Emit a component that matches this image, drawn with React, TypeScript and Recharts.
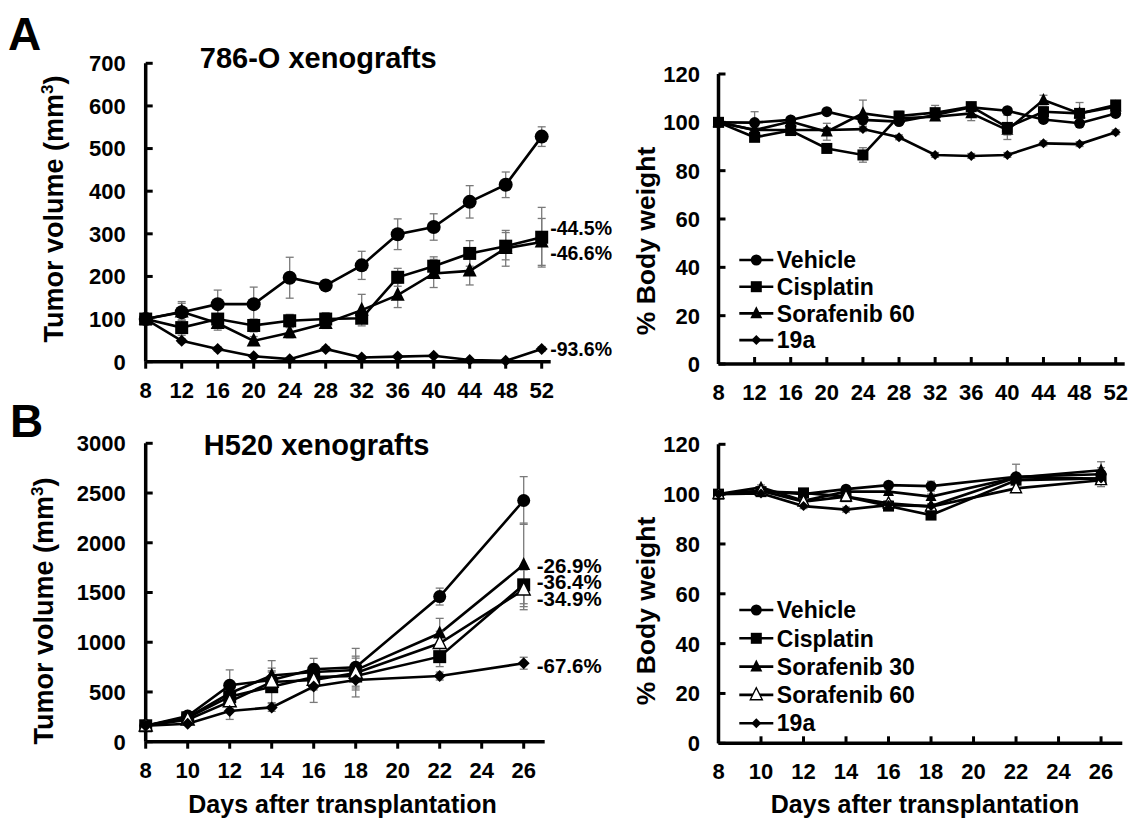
import { LineChart, Line, XAxis, YAxis, ErrorBar } from 'recharts';

const FONT = '"Liberation Sans", Arial, Helvetica, sans-serif';

type Shape = 'circle' | 'square' | 'triangle' | 'openTriangle' | 'diamond';
type SeriesDef = { key: string; name: string; shape: Shape; label?: string; labelDy?: number };
type Sizes = Record<Shape, number>;

// ---- Panel A, 786-O xenografts: tumor volume (mm3)
const daysA = [8, 12, 16, 20, 24, 28, 32, 36, 40, 44, 48, 52];
const volA_vehicle = [100, 116, 135, 135, 197, 179, 226, 299, 316, 375, 415, 528];
const volA_vehicleErr = [0, 25, 33, 40, 48, 8, 33, 36, 31, 38, 30, 23];
const volA_cisplatin = [100, 80, 100, 85, 96, 100, 102, 198, 224, 254, 271, 292];
const volA_cisplatinErr = [0, 18, 26, 15, 15, 15, 12, 21, 22, 30, 32, 70];
const volA_sora60 = [100, 117, 90, 49, 68, 90, 121, 156, 207, 213, 266, 281];
const volA_sora60Err = [0, 20, 12, 10, 12, 12, 37, 29, 33, 33, 42, 55];
const volA_19a = [100, 49, 30, 13, 6, 30, 10, 12, 14, 4, 2, 30];
const volA_19aErr = [0, 5, 5, 3, 3, 5, 3, 3, 3, 2, 2, 5];

// ---- Panel A: % body weight
const bwA_vehicle = [100, 99.9, 101, 104.4, 101, 100.3, 103, 106.2, 104.8, 101.2, 99.6, 103.7];
const bwA_vehicleErr = [0, 4.5, 1, 1, 2, 1, 1, 1, 1, 1, 1, 1];
const bwA_cisplatin = [100, 93.8, 96.6, 89.2, 86.5, 102.6, 104, 106.5, 97.9, 104.4, 103.7, 107.2];
const bwA_cisplatinErr = [0, 1, 1, 1, 3, 2, 3, 1.5, 5, 2, 4.5, 1];
const bwA_sora60 = [100, 96.8, 100.3, 96.1, 103.7, 101.7, 102.3, 103.7, 96.8, 109.2, 103.7, 106.5];
const bwA_sora60Err = [0, 1, 1, 3.5, 5.5, 1, 1, 3, 2, 2, 1, 1];
const bwA_19a = [100, 96.8, 96.8, 96.8, 97.2, 93.8, 86.5, 86.1, 86.5, 91.3, 91, 95.9];
const bwA_19aErr = [0, 1, 1, 1, 1, 1, 1, 1, 1, 1, 1, 1];

// ---- Panel B, H520 xenografts: tumor volume (mm3)
const daysB = [8, 10, 12, 14, 16, 18, 22, 26];
const volB_vehicle = [160, 258, 567, 620, 728, 748, 1459, 2425];
const volB_vehicleErr = [0, 30, 155, 120, 110, 190, 85, 240];
const volB_cisplatin = [160, 240, 453, 553, 650, 660, 855, 1577];
const volB_cisplatinErr = [0, 25, 80, 160, 80, 120, 100, 190];
const volB_sora30 = [160, 245, 487, 665, 700, 720, 1090, 1778];
const volB_sora30Err = [0, 25, 80, 150, 80, 120, 150, 420];
const volB_sora60 = [160, 220, 403, 600, 620, 690, 990, 1527];
const volB_sora60Err = [0, 20, 70, 100, 100, 170, 120, 200];
const volB_19a = [160, 180, 309, 345, 555, 620, 660, 789];
const volB_19aErr = [0, 15, 85, 40, 160, 170, 40, 60];

// ---- Panel B: % body weight
const bwB_vehicle = [100, 101.3, 100, 102, 103.6, 103.2, 107, 108];
const bwB_vehicleErr = [0, 1, 1, 1, 1, 2, 5, 5];
const bwB_cisplatin = [100, 101, 100.5, 99, 95.2, 91.6, 105.6, 106.3];
const bwB_cisplatinErr = [0, 1, 1, 1, 1, 1, 1, 1];
const bwB_sora30 = [100, 102.7, 97.3, 101, 101, 99, 106.7, 109.6];
const bwB_sora30Err = [0, 1, 1, 1, 1, 1, 1, 1];
const bwB_sora60 = [100, 101.3, 97, 99, 96.3, 95, 102.3, 105.6];
const bwB_sora60Err = [0, 1, 1, 1, 1, 1, 1.5, 1];
const bwB_19a = [100, 100.3, 95.2, 93.8, 95.6, 95.2, 106.7, 106.3];
const bwB_19aErr = [0, 1, 1, 1, 1, 1, 1, 1];

// ticks
const ticksXA = [8, 12, 16, 20, 24, 28, 32, 36, 40, 44, 48, 52];
const ticksXB = [8, 10, 12, 14, 16, 18, 20, 22, 24, 26];
const ticksVolA = [0, 100, 200, 300, 400, 500, 600, 700];
const ticksVolB = [0, 500, 1000, 1500, 2000, 2500, 3000];
const ticksBW = [0, 20, 40, 60, 80, 100, 120];

const seriesVolA: SeriesDef[] = [
  { key: 'vehicle', name: 'Vehicle', shape: 'circle' },
  { key: 'cisplatin', name: 'Cisplatin', shape: 'square', label: '-44.5%', labelDy: -9 },
  { key: 'sora60', name: 'Sorafenib 60', shape: 'triangle', label: '-46.6%', labelDy: 11 },
  { key: 'c19a', name: '19a', shape: 'diamond', label: '-93.6%', labelDy: 0 },
];
const seriesBwA: SeriesDef[] = [
  { key: 'vehicle', name: 'Vehicle', shape: 'circle' },
  { key: 'cisplatin', name: 'Cisplatin', shape: 'square' },
  { key: 'sora60', name: 'Sorafenib 60', shape: 'triangle' },
  { key: 'c19a', name: '19a', shape: 'diamond' },
];
const seriesVolB: SeriesDef[] = [
  { key: 'vehicle', name: 'Vehicle', shape: 'circle' },
  { key: 'cisplatin', name: 'Cisplatin', shape: 'square', label: '-36.4%', labelDy: -3 },
  { key: 'sora30', name: 'Sorafenib 30', shape: 'triangle', label: '-26.9%', labelDy: 1 },
  { key: 'sora60', name: 'Sorafenib 60', shape: 'openTriangle', label: '-34.9%', labelDy: 9 },
  { key: 'c19a', name: '19a', shape: 'diamond', label: '-67.6%', labelDy: 2 },
];
const seriesBwB: SeriesDef[] = [
  { key: 'vehicle', name: 'Vehicle', shape: 'circle' },
  { key: 'cisplatin', name: 'Cisplatin', shape: 'square' },
  { key: 'sora30', name: 'Sorafenib 30', shape: 'triangle' },
  { key: 'sora60', name: 'Sorafenib 60', shape: 'openTriangle' },
  { key: 'c19a', name: '19a', shape: 'diamond' },
];

function buildRows(days: number[], cols: Record<string, number[]>) {
  return days.map((day, i) => {
    const row: Record<string, number> = { day };
    for (const k of Object.keys(cols)) row[k] = cols[k][i];
    return row;
  });
}

const rowsVolA = buildRows(daysA, {
  vehicle: volA_vehicle, vehicleErr: volA_vehicleErr,
  cisplatin: volA_cisplatin, cisplatinErr: volA_cisplatinErr,
  sora60: volA_sora60, sora60Err: volA_sora60Err,
  c19a: volA_19a, c19aErr: volA_19aErr,
});
const rowsBwA = buildRows(daysA, {
  vehicle: bwA_vehicle, vehicleErr: bwA_vehicleErr,
  cisplatin: bwA_cisplatin, cisplatinErr: bwA_cisplatinErr,
  sora60: bwA_sora60, sora60Err: bwA_sora60Err,
  c19a: bwA_19a, c19aErr: bwA_19aErr,
});
const rowsVolB = buildRows(daysB, {
  vehicle: volB_vehicle, vehicleErr: volB_vehicleErr,
  cisplatin: volB_cisplatin, cisplatinErr: volB_cisplatinErr,
  sora30: volB_sora30, sora30Err: volB_sora30Err,
  sora60: volB_sora60, sora60Err: volB_sora60Err,
  c19a: volB_19a, c19aErr: volB_19aErr,
});
const rowsBwB = buildRows(daysB, {
  vehicle: bwB_vehicle, vehicleErr: bwB_vehicleErr,
  cisplatin: bwB_cisplatin, cisplatinErr: bwB_cisplatinErr,
  sora30: bwB_sora30, sora30Err: bwB_sora30Err,
  sora60: bwB_sora60, sora60Err: bwB_sora60Err,
  c19a: bwB_19a, c19aErr: bwB_19aErr,
});

function Marker({ cx, cy, shape, size }: { cx: number; cy: number; shape: Shape; size: number }) {
  const h = size / 2;
  switch (shape) {
    case 'circle':
      return <circle cx={cx} cy={cy} r={h} fill="#000" />;
    case 'square':
      return <rect x={cx - h} y={cy - h} width={size} height={size} fill="#000" />;
    case 'diamond':
      return <path d={`M${cx},${cy - h}L${cx + h},${cy}L${cx},${cy + h}L${cx - h},${cy}Z`} fill="#000" />;
    default: {
      const d = `M${cx},${cy - size * 0.6}L${cx + h},${cy + size * 0.4}L${cx - h},${cy + size * 0.4}Z`;
      return shape === 'triangle'
        ? <path d={d} fill="#000" />
        : <path d={d} fill="#fff" stroke="#000" strokeWidth={1.4} />;
    }
  }
}

const TICK_FS = 22;

const xTick = (inside: boolean) => (p: any) => (
  <g>
    <line x1={p.x} x2={p.x} y1={p.y} y2={inside ? p.y - 7 : p.y + 7} stroke="#000" strokeWidth={3} />
    <text x={p.x} y={p.y + 28 + TICK_FS * 0.358} textAnchor="middle" fontSize={TICK_FS} fontWeight="bold" fontFamily={FONT} fill="#000">
      {p.payload.value}
    </text>
  </g>
);

const yTick = (gap: number) => (p: any) => (
  <g>
    <line x1={p.x} x2={p.x + 7} y1={p.y} y2={p.y} stroke="#000" strokeWidth={3} />
    <text x={p.x - gap} y={p.y + TICK_FS * 0.358} textAnchor="end" fontSize={TICK_FS} fontWeight="bold" fontFamily={FONT} fill="#000">
      {p.payload.value}
    </text>
  </g>
);

type PanelProps = {
  box: { left: number; top: number; w: number; h: number };
  plot: { x0: number; x1: number; y0: number; y1: number };
  rows: Record<string, number>[];
  series: SeriesDef[];
  domainX: [number, number];
  ticksX: number[];
  domainY: [number, number];
  ticksY: number[];
  sizes: Sizes;
  xInside: boolean;
  yGap: number;
  labelDx?: number;
  labelSize?: number;
};

function Panel({ box, plot, rows, series, domainX, ticksX, domainY, ticksY, sizes, xInside, yGap, labelDx = 9, labelSize = 20 }: PanelProps) {
  const margin = {
    left: plot.x0 - box.left - 60,
    right: box.left + box.w - plot.x1,
    top: plot.y0 - box.top,
    bottom: box.top + box.h - plot.y1 - 30,
  };
  const last = rows.length - 1;
  return (
    <div style={{ position: 'absolute', left: box.left, top: box.top }}>
      <LineChart width={box.w} height={box.h} data={rows} margin={margin}>
        <XAxis
          type="number"
          dataKey="day"
          domain={domainX}
          ticks={ticksX}
          interval={0}
          height={30}
          tickSize={0}
          tickMargin={0}
          tickLine={false}
          axisLine={{ stroke: '#000', strokeWidth: 3.5 }}
          tick={xTick(xInside)}
        />
        <YAxis
          type="number"
          domain={domainY}
          ticks={ticksY}
          interval={0}
          width={60}
          tickSize={0}
          tickMargin={0}
          tickLine={false}
          axisLine={{ stroke: '#000', strokeWidth: 3.5 }}
          tick={yTick(yGap)}
        />
        {series.map((s) => (
          <Line
            key={s.key}
            type="linear"
            dataKey={s.key}
            stroke="#000"
            strokeWidth={2.6}
            isAnimationActive={false}
            activeDot={false}
            dot={(p: any) => (
              <g key={`${s.key}-${p.index}`}>
                <Marker cx={p.cx} cy={p.cy} shape={s.shape} size={sizes[s.shape]} />
                {s.label && p.index === last ? (
                  <text
                    x={p.cx + labelDx}
                    y={p.cy + (s.labelDy ?? 0) + labelSize * 0.358}
                    fontSize={labelSize}
                    fontWeight="bold"
                    fontFamily={FONT}
                    fill="#000"
                  >
                    {s.label}
                  </text>
                ) : null}
              </g>
            )}
          >
            <ErrorBar dataKey={`${s.key}Err`} width={4} strokeWidth={1.3} stroke="#7a7a7a" direction="y" />
          </Line>
        ))}
      </LineChart>
    </div>
  );
}

function LegendBlock({ x, y, gap, items, sizes }: { x: number; y: number; gap: number; items: SeriesDef[]; sizes: Sizes }) {
  const fs = 23;
  return (
    <g>
      {items.map((s, i) => {
        const cy = y + i * gap;
        return (
          <g key={s.key}>
            <line x1={x} x2={x + 34} y1={cy} y2={cy} stroke="#000" strokeWidth={2.6} />
            <Marker cx={x + 17} cy={cy} shape={s.shape} size={sizes[s.shape]} />
            <text x={x + 37.5} y={cy + fs * 0.358} fontSize={fs} fontWeight="bold" fontFamily={FONT} fill="#000">
              {s.name}
            </text>
          </g>
        );
      })}
    </g>
  );
}

const sizesVolA: Sizes = { circle: 14, square: 13, triangle: 14, openTriangle: 14, diamond: 12 };
const sizesBwA: Sizes = { circle: 11, square: 11, triangle: 12, openTriangle: 12, diamond: 10 };
const sizesVolB: Sizes = { circle: 13, square: 13, triangle: 13, openTriangle: 13, diamond: 12 };
const sizesBwB: Sizes = { circle: 11, square: 11, triangle: 11, openTriangle: 11, diamond: 10 };
const sizesLegend: Sizes = { circle: 11, square: 11, triangle: 12, openTriangle: 12, diamond: 10 };

export default function App() {
  const bold = { fontWeight: 'bold' as const, fontFamily: FONT, fill: '#000' };
  return (
    <div style={{ position: 'absolute', left: 0, top: 0, width: 1129, height: 820, background: '#fff', overflow: 'hidden' }}>
      <Panel
        box={{ left: 0, top: 0, w: 640, h: 420 }}
        plot={{ x0: 145.7, x1: 550.7, y0: 63.3, y1: 361.7 }}
        rows={rowsVolA}
        series={seriesVolA}
        domainX={[8, 53]}
        ticksX={ticksXA}
        domainY={[0, 700]}
        ticksY={ticksVolA}
        sizes={sizesVolA}
        xInside={false}
        yGap={20}
        labelDx={8.5}
        labelSize={19.5}
      />
      <Panel
        box={{ left: 600, top: 0, w: 529, h: 420 }}
        plot={{ x0: 718.5, x1: 1124.7, y0: 74, y1: 364 }}
        rows={rowsBwA}
        series={seriesBwA}
        domainX={[8, 53]}
        ticksX={ticksXA}
        domainY={[0, 120]}
        ticksY={ticksBW}
        sizes={sizesBwA}
        xInside={true}
        yGap={18.5}
      />
      <Panel
        box={{ left: 0, top: 420, w: 640, h: 400 }}
        plot={{ x0: 145.7, x1: 544.7, y0: 443.3, y1: 741.7 }}
        rows={rowsVolB}
        series={seriesVolB}
        domainX={[8, 27]}
        ticksX={ticksXB}
        domainY={[0, 3000]}
        ticksY={ticksVolB}
        sizes={sizesVolB}
        xInside={false}
        yGap={20}
        labelDx={13}
        labelSize={20.5}
      />
      <Panel
        box={{ left: 600, top: 420, w: 529, h: 400 }}
        plot={{ x0: 718.5, x1: 1122.3, y0: 444.3, y1: 743.3 }}
        rows={rowsBwB}
        series={seriesBwB}
        domainX={[8, 27]}
        ticksX={ticksXB}
        domainY={[0, 120]}
        ticksY={ticksBW}
        sizes={sizesBwB}
        xInside={true}
        yGap={18.5}
      />
      <svg width={1129} height={820} style={{ position: 'absolute', left: 0, top: 0, pointerEvents: 'none' }}>
        <text x={8} y={50} fontSize={46} {...bold}>A</text>
        <text x={10} y={437} fontSize={46} {...bold}>B</text>
        <text x={318.3} y={68.4} fontSize={29} textAnchor="middle" {...bold}>786-O xenografts</text>
        <text x={316.7} y={455.4} fontSize={29} textAnchor="middle" {...bold}>H520 xenografts</text>
        <text transform="translate(63,209) rotate(-90)" fontSize={27} textAnchor="middle" {...bold}>
          Tumor volume (mm<tspan dy={-10} fontSize={17}>3</tspan><tspan dy={10}>)</tspan>
        </text>
        <text transform="translate(53,611) rotate(-90)" fontSize={27} textAnchor="middle" {...bold}>
          Tumor volume (mm<tspan dy={-10} fontSize={17}>3</tspan><tspan dy={10}>)</tspan>
        </text>
        <text transform="translate(654.5,241) rotate(-90)" fontSize={26.5} textAnchor="middle" {...bold}>% Body weight</text>
        <text transform="translate(654.5,611) rotate(-90)" fontSize={26.5} textAnchor="middle" {...bold}>% Body weight</text>
        <text x={342.5} y={813} fontSize={25} textAnchor="middle" {...bold}>Days after transplantation</text>
        <text x={925} y={813} fontSize={25} textAnchor="middle" {...bold}>Days after transplantation</text>
        <LegendBlock x={739.3} y={260} gap={26.7} items={seriesBwA} sizes={sizesLegend} />
        <LegendBlock x={739.3} y={610} gap={28.3} items={seriesBwB} sizes={sizesLegend} />
      </svg>
    </div>
  );
}
